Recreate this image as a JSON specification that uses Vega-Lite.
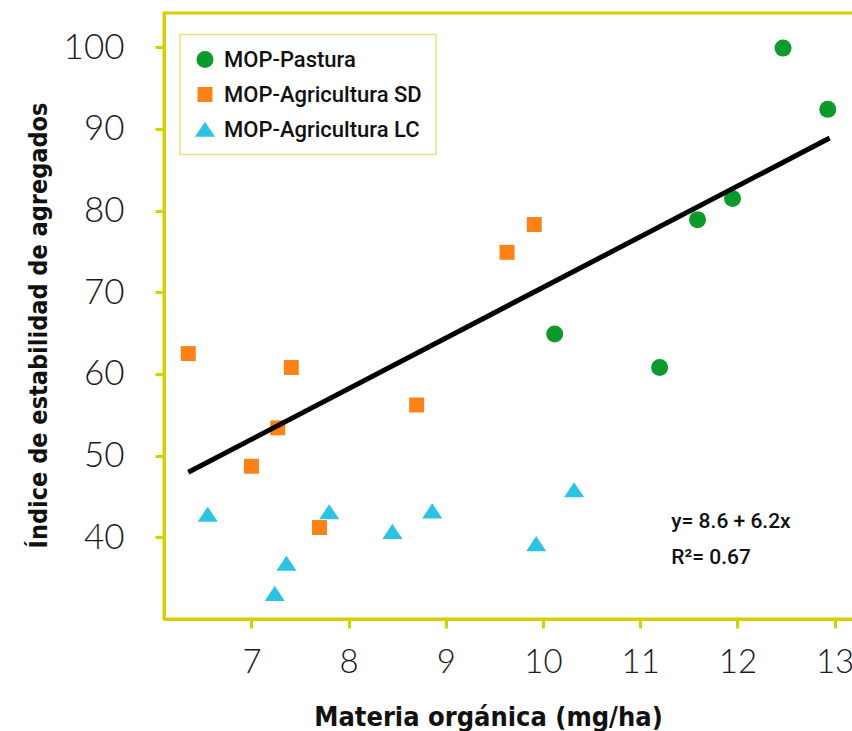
{
  "$schema": "https://vega.github.io/schema/vega-lite/v6.json",
  "width": 690,
  "height": 606,
  "autosize": {"type": "none"},
  "padding": {"left": 164, "top": 13, "right": 0, "bottom": 112},
  "background": "white",
  "config": {
    "view": {"stroke": "#d8cf00", "strokeWidth": 3},
    "axis": {
      "domainColor": "#d8cf00",
      "domainWidth": 3,
      "tickColor": "#d8cf00",
      "tickWidth": 3,
      "tickSize": 9,
      "grid": false,
      "labelFont": "Lato",
      "labelFontWeight": 300,
      "labelFontSize": 35,
      "labelColor": "#1a1a1a",
      "titleFont": "DejaVu Sans Condensed",
      "titleFontWeight": "bold",
      "titleColor": "#111111"
    },
    "legend": {
      "orient": "none",
      "legendX": 16,
      "legendY": 21.5,
      "padding": 14,
      "strokeColor": "#ebe57a",
      "strokeWidth": 1.5,
      "labelFont": "Roboto",
      "labelFontSize": 22,
      "labelFontWeight": 500,
      "labelColor": "#111111",
      "labelOffset": 8,
      "labelLimit": 400,
      "rowPadding": 13,
      "symbolSize": 289,
      "symbolStrokeWidth": 0,
      "title": null
    }
  },
  "layer": [
    {
      "data": {
        "values": [
          {"mo": 12.47, "iea": 99.9, "grupo": "MOP-Pastura"},
          {"mo": 12.93, "iea": 92.4, "grupo": "MOP-Pastura"},
          {"mo": 11.95, "iea": 81.5, "grupo": "MOP-Pastura"},
          {"mo": 11.59, "iea": 78.9, "grupo": "MOP-Pastura"},
          {"mo": 10.12, "iea": 64.9, "grupo": "MOP-Pastura"},
          {"mo": 11.2, "iea": 60.8, "grupo": "MOP-Pastura"},
          {"mo": 6.35, "iea": 62.5, "grupo": "MOP-Agricultura SD"},
          {"mo": 7.41, "iea": 60.8, "grupo": "MOP-Agricultura SD"},
          {"mo": 7.27, "iea": 53.4, "grupo": "MOP-Agricultura SD"},
          {"mo": 7.0, "iea": 48.7, "grupo": "MOP-Agricultura SD"},
          {"mo": 8.7, "iea": 56.2, "grupo": "MOP-Agricultura SD"},
          {"mo": 9.63, "iea": 74.9, "grupo": "MOP-Agricultura SD"},
          {"mo": 9.91, "iea": 78.3, "grupo": "MOP-Agricultura SD"},
          {"mo": 7.7, "iea": 41.2, "grupo": "MOP-Agricultura SD"},
          {"mo": 6.55, "iea": 42.8, "grupo": "MOP-Agricultura LC"},
          {"mo": 7.36, "iea": 36.8, "grupo": "MOP-Agricultura LC"},
          {"mo": 7.24, "iea": 33.1, "grupo": "MOP-Agricultura LC"},
          {"mo": 7.8, "iea": 43.1, "grupo": "MOP-Agricultura LC"},
          {"mo": 8.45, "iea": 40.7, "grupo": "MOP-Agricultura LC"},
          {"mo": 8.86, "iea": 43.2, "grupo": "MOP-Agricultura LC"},
          {"mo": 9.93, "iea": 39.2, "grupo": "MOP-Agricultura LC"},
          {"mo": 10.32, "iea": 45.8, "grupo": "MOP-Agricultura LC"}
        ]
      },
      "mark": {"type": "point", "filled": true, "opacity": 1, "size": 289},
      "encoding": {
        "x": {
          "field": "mo", "type": "quantitative",
          "scale": {"domain": [6.1, 13.2], "nice": false, "zero": false},
          "axis": {
            "values": [7, 8, 9, 10, 11, 12, 13],
            "format": "d",
            "labelFontSize": 33,
            "title": "Materia orgánica (mg/ha)",
            "titleFontSize": 27,
            "labelPadding": 18,
            "titleX": 324,
            "titleY": 106,
            "titleAlign": "center",
            "titleBaseline": "alphabetic"
          }
        },
        "y": {
          "field": "iea", "type": "quantitative",
          "scale": {"domain": [30, 104.2], "nice": false, "zero": false},
          "axis": {
            "values": [40, 50, 60, 70, 80, 90, 100],
            "format": "d",
            "title": "Índice de estabilidad de agregados",
            "titleFontSize": 25,
            "labelPadding": 31,
            "titleX": -118,
            "titleY": 312,
            "titleAngle": -90,
            "titleAlign": "center",
            "titleBaseline": "alphabetic"
          }
        },
        "color": {
          "field": "grupo", "type": "nominal",
          "scale": {
            "domain": ["MOP-Pastura", "MOP-Agricultura SD", "MOP-Agricultura LC"],
            "range": ["#0b9a2b", "#fd8115", "#2cc3e3"]
          }
        },
        "shape": {
          "field": "grupo", "type": "nominal",
          "scale": {
            "domain": ["MOP-Pastura", "MOP-Agricultura SD", "MOP-Agricultura LC"],
            "range": ["circle", "M-0.88,-0.88L0.88,-0.88L0.88,0.88L-0.88,0.88Z", "M0,-0.92L1.18,0.86L-1.18,0.86Z"]
          }
        }
      }
    },
    {
      "data": {"values": [{"mo": 6.35, "iea": 47.97}, {"mo": 12.95, "iea": 88.89}]},
      "mark": {"type": "line", "color": "#000000", "strokeWidth": 5},
      "encoding": {
        "x": {"field": "mo", "type": "quantitative"},
        "y": {"field": "iea", "type": "quantitative"}
      }
    },
    {
      "data": {
        "values": [
          {"mo": 11.32, "iea": 41.2, "txt": "y= 8.6 + 6.2x"},
          {"mo": 11.32, "iea": 36.7, "txt": "R²= 0.67"}
        ]
      },
      "mark": {"type": "text", "align": "left", "baseline": "alphabetic", "font": "Roboto", "fontSize": 21, "fontWeight": 500, "color": "#111111"},
      "encoding": {
        "x": {"field": "mo", "type": "quantitative"},
        "y": {"field": "iea", "type": "quantitative"},
        "text": {"field": "txt", "type": "nominal"}
      }
    }
  ]
}
